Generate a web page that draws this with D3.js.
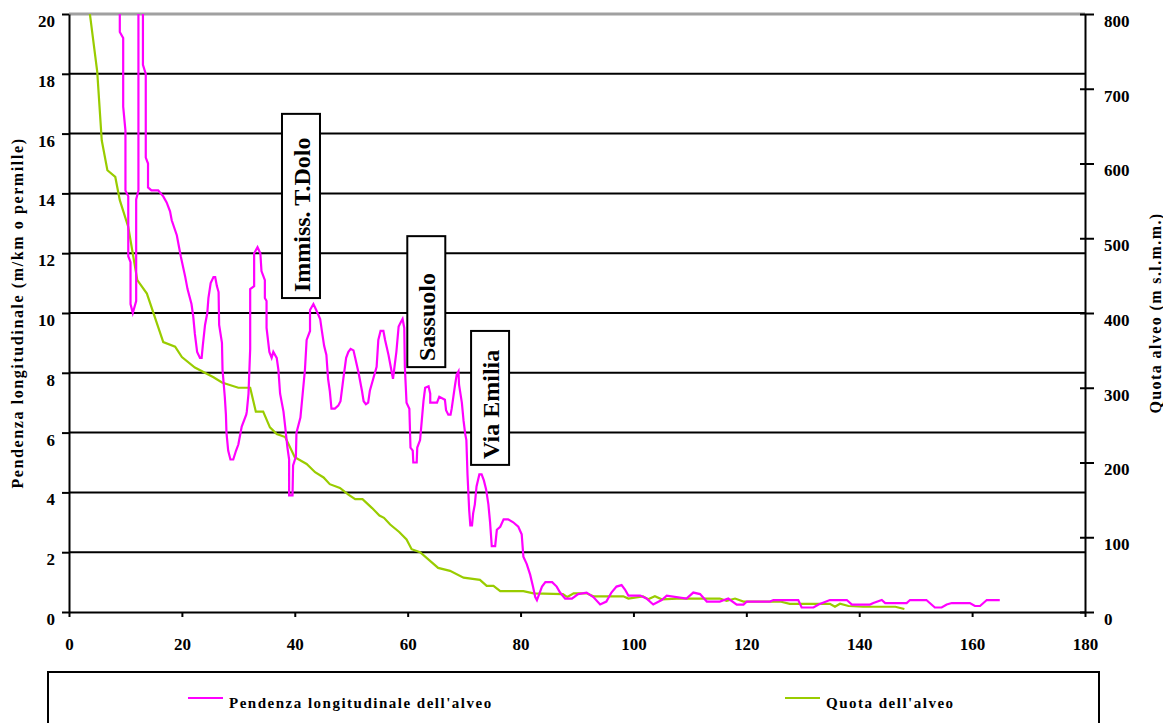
<!DOCTYPE html>
<html>
<head>
<meta charset="utf-8">
<script src="https://cdn.jsdelivr.net/npm/d3@7"></script>
<style>
  body { margin: 0; background: #fff; }
  text { font-family: "Liberation Serif", "Times New Roman", serif; font-weight: bold; fill: #000; }
</style>
</head>
<body>
<div class="container"></div>
<script>
// pendenza longitudinale dell'alveo (m/km) vs progressiva (km)
const pendenzaKm = [9.0, 9.0, 9.6, 9.6, 10.0, 10.0, 10.5, 10.5, 10.9, 10.9, 11.3, 11.9, 11.9, 12.3, 12.3,
  13.1, 13.1, 13.6, 13.6, 14.0, 14.0, 14.6, 15.8, 16.7, 17.3, 17.9, 18.2, 19.1, 19.5, 19.8,
  20.6, 21.0, 21.7, 22.0, 22.3, 22.7, 23.2, 23.5, 23.7, 24.1, 24.5, 24.7, 25.1, 25.6, 25.9,
  26.2, 26.5, 26.6, 27.1, 27.2, 27.6, 27.8, 27.9, 28.2, 28.6, 29.1, 29.6, 30.0, 30.6, 31.4,
  31.5, 31.8, 32.1, 32.1, 32.8, 32.8, 33.4, 33.9, 34.1, 34.7, 34.7, 35.0, 35.0, 35.5, 35.9,
  36.2, 36.8, 37.1, 37.4, 38.0, 38.3, 38.7, 39.0, 39.0, 39.6, 39.7, 40.2, 40.3, 41.0, 41.4,
  41.8, 42.1, 42.7, 42.7, 43.3, 43.8, 44.5, 44.8, 45.2, 45.6, 45.9, 46.2, 46.5, 47.1, 47.7,
  48.1, 48.6, 49.1, 49.5, 49.9, 50.4, 50.7, 51.3, 51.9, 52.2, 52.6, 53.0, 53.3, 53.9, 54.5,
  54.8, 55.2, 55.7, 56.0, 56.6, 57.0, 57.4, 57.6, 58.0, 58.4, 58.8, 59.1, 59.4, 59.5, 59.8,
  60.3, 60.5, 60.9, 61.0, 61.6, 61.7, 62.2, 62.5, 62.8, 63.1, 63.7, 64.0, 64.0, 65.2, 65.6,
  66.6, 66.8, 67.2, 67.6, 67.8, 68.1, 68.4, 68.7, 69.0, 69.1, 69.6, 69.9, 70.2, 70.4, 70.6,
  70.9, 71.1, 71.4, 71.6, 71.9, 72.2, 72.7, 73.1, 73.5, 73.9, 74.3, 74.6, 74.9, 75.5, 75.8,
  76.4, 77.0, 77.8, 78.7, 79.6, 80.2, 80.5, 81.1, 81.7, 82.2, 82.6, 82.9, 83.4, 83.8, 84.4,
  85.6, 86.4, 87.0, 87.9, 89.1, 90.2, 91.7, 92.9, 94.1, 95.2, 96.1, 97.0, 97.9, 98.5, 99.1,
  101.2, 102.3, 103.5, 105.0, 105.9, 109.4, 110.6, 111.8, 113.0, 115.3, 116.8, 118.3, 119.5, 120.1, 124.2,
  124.8, 129.2, 129.8, 131.9, 132.8, 134.8, 137.8, 138.7, 141.9, 142.5, 144.0, 144.6, 148.4, 149.0, 151.9,
  152.8, 153.4, 154.6, 155.5, 156.4, 159.6, 160.5, 161.4, 162.0, 162.6, 164.9];
const pendenzaVal = [20.6, 19.4, 19.2, 16.9, 16.1, 14.1, 13.9, 11.9, 11.7, 10.3, 10.0, 10.4, 13.8, 14.1, 20.6,
  20.6, 18.3, 18.0, 15.2, 15.0, 14.2, 14.1, 14.1, 13.9, 13.7, 13.4, 13.1, 12.6, 12.2, 11.9,
  11.2, 10.8, 10.3, 9.9, 9.3, 8.7, 8.5, 8.5, 8.9, 9.6, 10.0, 10.5, 11.0, 11.2, 11.2,
  10.9, 10.7, 9.6, 9.0, 8.1, 7.2, 6.6, 6.0, 5.4, 5.1, 5.1, 5.4, 5.6, 6.2, 6.6,
  6.7, 7.3, 8.8, 10.8, 10.9, 12.0, 12.2, 12.0, 11.4, 11.1, 10.5, 10.4, 9.5, 8.7, 8.5,
  8.7, 8.5, 8.1, 7.3, 6.7, 6.2, 5.5, 5.1, 3.9, 3.9, 4.9, 5.2, 6.0, 6.5, 7.3,
  8.1, 9.1, 9.4, 10.1, 10.3, 10.1, 9.8, 9.4, 8.9, 8.6, 7.8, 7.4, 6.8, 6.8, 6.9,
  7.05, 7.8, 8.5, 8.7, 8.8, 8.75, 8.5, 8.0, 7.4, 7.05, 6.95, 7.0, 7.4, 7.8, 8.2,
  9.1, 9.4, 9.4, 9.1, 8.6, 8.2, 7.8, 8.1, 8.7, 9.55, 9.7, 9.8, 9.5, 8.2, 7.0,
  6.8, 5.5, 5.4, 5.0, 5.0, 5.5, 5.75, 6.4, 7.05, 7.5, 7.55, 7.3, 7.0, 7.0, 7.2,
  7.1, 6.75, 6.6, 6.6, 6.8, 7.2, 7.6, 7.95, 8.05, 7.6, 7.0, 6.4, 5.95, 5.75, 4.6,
  3.4, 2.9, 2.9, 3.3, 3.6, 4.2, 4.6, 4.6, 4.4, 4.1, 3.6, 3.0, 2.2, 2.2, 2.75,
  2.85, 3.1, 3.1, 3.0, 2.85, 2.6, 1.85, 1.6, 1.25, 0.85, 0.5, 0.4, 0.65, 0.85, 1.0,
  1.0, 0.85, 0.65, 0.45, 0.45, 0.6, 0.65, 0.5, 0.25, 0.35, 0.65, 0.85, 0.9, 0.75, 0.55,
  0.55, 0.45, 0.25, 0.4, 0.55, 0.45, 0.65, 0.6, 0.35, 0.35, 0.45, 0.25, 0.25, 0.35, 0.35,
  0.4, 0.4, 0.15, 0.15, 0.25, 0.4, 0.4, 0.25, 0.25, 0.3, 0.4, 0.3, 0.3, 0.4, 0.4,
  0.25, 0.15, 0.15, 0.25, 0.3, 0.3, 0.2, 0.2, 0.3, 0.4, 0.4];

// quota dell'alveo (m s.l.m.m.) vs progressiva (km)
const quotaKm = [3.0, 3.7, 5.0, 5.8, 6.8, 8.2, 9.0, 10.5, 12.1, 13.8, 16.7, 18.8, 20.0, 22.3, 25.6,
  27.1, 30.0, 32.1, 33.1, 34.4, 35.6, 36.8, 38.3, 40.0, 42.1, 43.6, 45.1, 46.2, 48.0, 49.5,
  50.7, 52.0, 53.7, 55.0, 55.8, 56.9, 58.5, 59.8, 60.7, 62.2, 65.4, 67.5, 69.9, 72.8, 74.0,
  75.2, 76.4, 80.5, 82.3, 87.5, 88.3, 89.4, 91.7, 92.9, 98.2, 99.1, 101.7, 102.6, 103.8, 105.0,
  107.7, 115.3, 116.5, 118.0, 119.5, 126.0, 127.7, 134.8, 135.7, 136.6, 138.1, 140.7, 146.4, 148.0];
const quotaVal = [860, 800, 723, 631, 591, 582, 551, 515, 444, 426, 361, 355, 341, 327, 314,
  307, 300, 300, 268, 268, 247, 238, 234, 207, 198, 187, 180, 171, 166, 157,
  151, 151, 139, 129, 126, 117, 107, 97, 84, 80, 59, 55, 46, 43, 35,
  35, 28, 28, 25, 24, 20, 25, 25, 21, 21, 18, 21, 17, 21, 17,
  18, 18, 15, 18, 14, 14, 11, 11, 7, 11, 8, 7, 7, 4];

const xTicks = [0, 20, 40, 60, 80, 100, 120, 140, 160, 180];
const leftTicks = [0, 2, 4, 6, 8, 10, 12, 14, 16, 18, 20];
const rightTicks = [0, 100, 200, 300, 400, 500, 600, 700, 800];

// note sul grafico: progressiva del riquadro, estremi in m/km
const noteLabels = ["Immiss. T.Dolo", "Sassuolo", "Via Emilia"];
const noteKm = [41.1, 63.3, 74.6];
const noteTop = [16.66, 12.57, 9.4];
const noteBottom = [10.5, 8.19, 4.92];

const legendLabels = ["Pendenza longitudinale dell'alveo", "Quota dell'alveo"];

const width = 1163;
const height = 723;
const plotLeft = 69, plotRight = 1085, plotTop = 14, plotBottom = 612;
const pink = "#ff00ff";
const green = "#99cc00";

const xScale = d3.scaleLinear().domain([0, 180]).range([plotLeft, plotRight]);
const yLeft = d3.scaleLinear().domain([0, 20]).range([plotBottom, plotTop]);
const yRight = d3.scaleLinear().domain([0, 800]).range([plotBottom, plotTop]);

const svg = d3.select("div.container")
  .append("svg")
  .attr("width", width)
  .attr("height", height);

svg.append("defs").append("clipPath").attr("id", "plot")
  .append("rect").attr("x", plotLeft).attr("y", plotTop)
  .attr("width", plotRight - plotLeft).attr("height", plotBottom - plotTop);

// gridlines
svg.append("g").selectAll("line").data(leftTicks.filter(d => d > 0 && d < 20)).enter().append("line")
  .attr("x1", plotLeft).attr("x2", plotRight)
  .attr("y1", d => yLeft(d)).attr("y2", d => yLeft(d))
  .attr("stroke", "#000").attr("stroke-width", 2);
svg.append("line").attr("x1", plotLeft).attr("x2", plotRight).attr("y1", yLeft(20)).attr("y2", yLeft(20))
  .attr("stroke", "#a0a0a0").attr("stroke-width", 3);

// lines
const pendenza = d3.zip(pendenzaKm, pendenzaVal);
const quota = d3.zip(quotaKm, quotaVal);

svg.append("path").datum(quota)
  .attr("clip-path", "url(#plot)")
  .attr("fill", "none").attr("stroke", green).attr("stroke-width", 2.2)
  .attr("d", d3.line().x(d => xScale(d[0])).y(d => yRight(d[1])));

svg.append("path").datum(pendenza)
  .attr("clip-path", "url(#plot)")
  .attr("fill", "none").attr("stroke", pink).attr("stroke-width", 2.2)
  .attr("d", d3.line().x(d => xScale(d[0])).y(d => yLeft(d[1])));

// axes
const xAxis = d3.axisBottom(xScale).tickValues(xTicks).tickSize(5).tickSizeOuter(0).tickPadding(21);
const gx = svg.append("g").attr("transform", `translate(0,${plotBottom})`).call(xAxis);

const gl = svg.append("g").attr("transform", `translate(${plotLeft},0)`)
  .call(d3.axisLeft(yLeft).tickValues(leftTicks).tickSize(7).tickSizeOuter(0).tickPadding(7));
gl.selectAll(".tick text").attr("y", 7);

const gr = svg.append("g").attr("transform", `translate(${plotRight},0)`)
  .call(d3.axisRight(yRight).tickValues(rightTicks).tickSize(9).tickSizeOuter(0).tickPadding(10));
gr.selectAll(".tick line").attr("x1", -5);
gr.selectAll(".tick text").attr("y", 7);

[gx, gl, gr].forEach(g => {
  g.select(".domain").attr("stroke", "#000").attr("stroke-width", 2);
  g.selectAll(".tick line").attr("stroke", "#000").attr("stroke-width", 2);
  g.selectAll(".tick text").attr("font-size", 17).attr("font-family", null);
});

// axis titles
svg.append("text")
  .attr("transform", `translate(17,${(plotTop + plotBottom) / 2}) rotate(-90)`)
  .attr("text-anchor", "middle").attr("dominant-baseline", "central")
  .attr("font-size", 16).attr("letter-spacing", 1.6)
  .text("Pendenza longitudinale (m/km o permille)");
svg.append("text")
  .attr("transform", `translate(1155,${(plotTop + plotBottom) / 2}) rotate(-90)`)
  .attr("text-anchor", "middle").attr("dominant-baseline", "central")
  .attr("font-size", 16).attr("letter-spacing", 1.4)
  .text("Quota alveo (m s.l.m.m.)");

// note boxes
const notes = svg.append("g").selectAll("g").data(noteLabels).enter().append("g");
notes.append("rect")
  .attr("x", (d, i) => xScale(noteKm[i]) - 19)
  .attr("y", (d, i) => yLeft(noteTop[i]))
  .attr("width", 38)
  .attr("height", (d, i) => yLeft(noteBottom[i]) - yLeft(noteTop[i]))
  .attr("fill", "#fff").attr("stroke", "#000").attr("stroke-width", 2);
notes.append("text")
  .attr("transform", (d, i) => `translate(${xScale(noteKm[i]) + 1},${yLeft(noteBottom[i]) - 6}) rotate(-90)`)
  .attr("text-anchor", "start").attr("dominant-baseline", "central")
  .attr("font-size", 24)
  .text(d => d);

// legend
svg.append("rect").attr("x", 48).attr("y", 672).attr("width", 1051).attr("height", 90)
  .attr("fill", "#fff").attr("stroke", "#000").attr("stroke-width", 2);
const legendX = [188, 785];
const legendColors = [pink, green];
const lg = svg.append("g").selectAll("g").data(legendLabels).enter().append("g")
  .attr("transform", (d, i) => `translate(${legendX[i]},698)`);
lg.append("line").attr("x1", 0).attr("x2", 35).attr("y1", 0).attr("y2", 0)
  .attr("stroke", (d, i) => legendColors[i]).attr("stroke-width", 2.2);
lg.append("text").attr("x", 41).attr("y", 10)
  .attr("font-size", 15).attr("letter-spacing", 1.5)
  .text(d => d);
</script>
</body>
</html>
